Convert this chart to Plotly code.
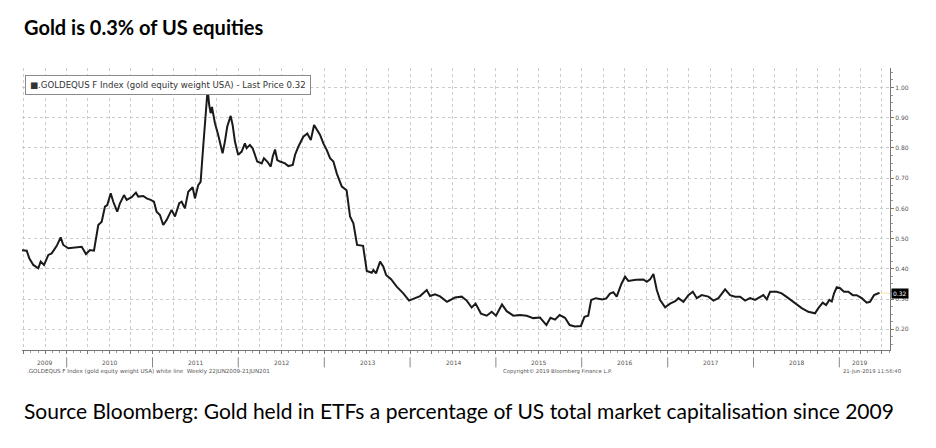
import numpy as np
import pandas as pd
import plotly.graph_objects as go

# ---- data: decimal year, value ----
years_dec = [
    2009.475, 2009.534, 2009.564, 2009.611, 2009.669, 2009.697, 2009.736, 2009.786, 2009.825, 2009.884,
    2009.930, 2009.960, 2010.019, 2010.097, 2010.175, 2010.225, 2010.271, 2010.318, 2010.368, 2010.408,
    2010.446, 2010.473, 2010.513, 2010.543, 2010.589, 2010.621, 2010.668, 2010.699, 2010.757, 2010.807,
    2010.834, 2010.892, 2010.932, 2010.979, 2011.017, 2011.048, 2011.087, 2011.125, 2011.165, 2011.223,
    2011.262, 2011.312, 2011.340, 2011.378, 2011.417, 2011.468, 2011.495, 2011.533, 2011.561, 2011.591,
    2011.623, 2011.643, 2011.661, 2011.678, 2011.693, 2011.728, 2011.766, 2011.794, 2011.817, 2011.844,
    2011.871, 2011.911, 2011.934, 2011.961, 2011.999, 2012.039, 2012.077, 2012.097, 2012.135, 2012.167,
    2012.194, 2012.220, 2012.272, 2012.298, 2012.337, 2012.377, 2012.400, 2012.427, 2012.453, 2012.485,
    2012.543, 2012.582, 2012.633, 2012.660, 2012.698, 2012.756, 2012.803, 2012.843, 2012.881, 2012.912,
    2012.951, 2012.989, 2013.029, 2013.067, 2013.106, 2013.145, 2013.204, 2013.260, 2013.300, 2013.339,
    2013.382, 2013.452, 2013.495, 2013.553, 2013.572, 2013.603, 2013.650, 2013.688, 2013.720, 2013.778,
    2013.844, 2013.921, 2013.988, 2014.058, 2014.116, 2014.194, 2014.232, 2014.291, 2014.349, 2014.430,
    2014.523, 2014.602, 2014.660, 2014.718, 2014.763, 2014.826, 2014.893, 2014.951, 2015.001, 2015.071,
    2015.126, 2015.203, 2015.281, 2015.359, 2015.436, 2015.514, 2015.589, 2015.636, 2015.689, 2015.743,
    2015.805, 2015.860, 2015.921, 2015.991, 2016.032, 2016.076, 2016.110, 2016.164, 2016.242, 2016.286,
    2016.329, 2016.368, 2016.407, 2016.460, 2016.504, 2016.542, 2016.632, 2016.717, 2016.757, 2016.795,
    2016.834, 2016.873, 2016.912, 2016.970, 2017.028, 2017.087, 2017.125, 2017.183, 2017.241, 2017.293,
    2017.339, 2017.397, 2017.474, 2017.533, 2017.591, 2017.669, 2017.727, 2017.785, 2017.844, 2017.902,
    2017.960, 2018.018, 2018.077, 2018.115, 2018.155, 2018.193, 2018.271, 2018.329, 2018.406, 2018.484,
    2018.562, 2018.639, 2018.717, 2018.756, 2018.807, 2018.846, 2018.884, 2018.912, 2018.939, 2018.970,
    2019.009, 2019.055, 2019.105, 2019.157, 2019.203, 2019.261, 2019.320, 2019.358, 2019.405, 2019.455,
    2019.471,
]
gold_weight = [
    0.462, 0.460, 0.435, 0.413, 0.402, 0.424, 0.413, 0.446, 0.451, 0.476,
    0.504, 0.479, 0.468, 0.471, 0.473, 0.449, 0.462, 0.460, 0.545, 0.556,
    0.606, 0.611, 0.650, 0.622, 0.589, 0.617, 0.644, 0.628, 0.637, 0.652,
    0.639, 0.641, 0.633, 0.628, 0.622, 0.589, 0.578, 0.545, 0.562, 0.595,
    0.573, 0.617, 0.622, 0.600, 0.655, 0.670, 0.633, 0.677, 0.688, 0.804,
    0.915, 0.995, 0.942, 0.915, 0.936, 0.882, 0.843, 0.810, 0.782, 0.821,
    0.870, 0.906, 0.876, 0.821, 0.777, 0.788, 0.815, 0.799, 0.810, 0.799,
    0.777, 0.755, 0.749, 0.766, 0.755, 0.738, 0.771, 0.795, 0.760, 0.755,
    0.749, 0.740, 0.744, 0.777, 0.804, 0.837, 0.848, 0.826, 0.876, 0.859,
    0.843, 0.815, 0.793, 0.766, 0.755, 0.716, 0.672, 0.660, 0.573, 0.551,
    0.479, 0.476, 0.393, 0.387, 0.396, 0.385, 0.424, 0.407, 0.380, 0.366,
    0.341, 0.319, 0.295, 0.303, 0.310, 0.330, 0.310, 0.316, 0.309, 0.291,
    0.305, 0.308, 0.295, 0.272, 0.285, 0.252, 0.245, 0.258, 0.245, 0.282,
    0.260, 0.245, 0.247, 0.245, 0.237, 0.239, 0.214, 0.238, 0.232, 0.247,
    0.238, 0.214, 0.209, 0.211, 0.241, 0.245, 0.297, 0.303, 0.299, 0.302,
    0.318, 0.323, 0.308, 0.349, 0.374, 0.360, 0.364, 0.365, 0.357, 0.365,
    0.383, 0.330, 0.297, 0.273, 0.285, 0.293, 0.303, 0.291, 0.313, 0.324,
    0.303, 0.313, 0.308, 0.295, 0.303, 0.332, 0.313, 0.308, 0.308, 0.295,
    0.303, 0.297, 0.308, 0.313, 0.299, 0.324, 0.324, 0.319, 0.303, 0.286,
    0.270, 0.258, 0.253, 0.270, 0.288, 0.280, 0.297, 0.292, 0.319, 0.339,
    0.336, 0.324, 0.324, 0.313, 0.313, 0.303, 0.288, 0.291, 0.313, 0.319,
    0.320,
]
year_labels = ["2009", "2010", "2011", "2012", "2013", "2014", "2015", "2016", "2017", "2018", "2019"]
y_ticks = [0.20, 0.30, 0.40, 0.50, 0.60, 0.70, 0.80, 0.90, 1.00]
last_price = 0.32

title_text = "Gold is 0.3% of US equities"
caption_text = "Source Bloomberg: Gold held in ETFs a percentage of US total market capitalisation since 2009"
legend_text = "■.GOLDEQUS F Index (gold equity weight USA) - Last Price 0.32"
foot_left = ".GOLDEQUS F Index (gold equity weight USA) white line  Weekly 22JUN2009-21JUN201"
foot_mid = "Copyright© 2019 Bloomberg Finance L.P."
foot_right = "21-Jun-2019 11:56:40"


def yfrac_to_date(t):
    y = int(np.floor(t))
    start = pd.Timestamp(y, 1, 1)
    end = pd.Timestamp(y + 1, 1, 1)
    return start + (end - start) * (t - y)


dates = [yfrac_to_date(t) for t in years_dec]
x_start = yfrac_to_date(2009.479)
x_end = yfrac_to_date(2019.591)

fig = go.Figure()
fig.add_trace(go.Scatter(
    x=dates, y=gold_weight, mode="lines",
    line=dict(color="#1a1a1a", width=2),
    showlegend=False, hoverinfo="x+y",
))

grid_col = "#cccccc"
fig.update_layout(
    width=928, height=440,
    margin=dict(l=14, r=46, t=60, b=98),
    paper_bgcolor="white", plot_bgcolor="white",
    font=dict(family="DejaVu Sans", color="#444"),
    xaxis=dict(
        type="date", range=[x_start, x_end],
        tick0="2009-07-01", dtick="M3",
        showgrid=True, gridcolor=grid_col, griddash="dot", gridwidth=1,
        showticklabels=False, ticks="outside", ticklen=3, tickcolor="#777",
        minor=dict(dtick="M1", ticks="outside", ticklen=2, tickcolor="#999", showgrid=False),
        showline=True, linecolor="#777", linewidth=1,
        zeroline=False,
    ),
    yaxis=dict(
        side="right", range=[0.1315, 1.0645],
        tickvals=y_ticks, tickformat=".2f",
        tickfont=dict(size=6, color="#555"),
        ticks="outside", ticklen=3, tickcolor="#777",
        minor=dict(dtick=0.025, ticks="outside", ticklen=2, tickcolor="#999", showgrid=False),
        showgrid=True, gridcolor=grid_col, griddash="dot", gridwidth=1,
        showline=True, linecolor="#777", linewidth=1,
        zeroline=False,
    ),
)

# year separators and centred year labels
first_t, last_t = years_dec[0], years_dec[-1]
for lab in year_labels:
    yr = int(lab)
    lo = max(yr, first_t)
    hi = min(yr + 1, last_t)
    mid = yfrac_to_date((lo + hi) / 2)
    fig.add_annotation(x=mid, y=-0.046, xref="x", yref="paper", text=lab,
                       showarrow=False, font=dict(size=6, color="#555"),
                       xanchor="center", yanchor="middle")
    if yr > 2009:
        fig.add_shape(type="line", xref="x", yref="paper",
                      x0=pd.Timestamp(yr, 1, 1), x1=pd.Timestamp(yr, 1, 1),
                      y0=-0.026, y1=-0.062, line=dict(color="#888", width=1))

# legend box
fig.add_annotation(x=0.004, y=0.975, xref="paper", yref="paper", text=legend_text,
                   showarrow=False, xanchor="left", yanchor="top",
                   font=dict(size=8.6, color="#333", family="DejaVu Sans"),
                   bordercolor="#8a8a8a", borderwidth=1, borderpad=4, bgcolor="white")

# last price marker
fig.add_shape(type="line", xref="x", yref="y", x0=dates[-1], x1=x_end,
              y0=last_price, y1=last_price, line=dict(color="#f3e2a8", width=1))
fig.add_annotation(x=1, y=last_price, xref="paper", yref="y", text="0.32",
                   showarrow=False, xanchor="left", yanchor="middle", xshift=1,
                   font=dict(size=6, color="white"), bgcolor="black", borderpad=1)

# footer texts
fig.add_annotation(x=0.004, y=-0.078, xref="paper", yref="paper", text=foot_left,
                   showarrow=False, xanchor="left", yanchor="middle",
                   font=dict(size=5.6, color="#555"))
fig.add_annotation(x=(501 - 22) / 868, y=-0.078, xref="paper", yref="paper", text=foot_mid,
                   showarrow=False, xanchor="left", yanchor="middle",
                   font=dict(size=5.3, color="#555"))
fig.add_annotation(x=(904 - 22) / 868, y=-0.078, xref="paper", yref="paper", text=foot_right,
                   showarrow=False, xanchor="right", yanchor="middle",
                   font=dict(size=5.3, color="#555"))

# title and caption
fig.add_annotation(x=0, y=(350 - 27) / 282, xref="paper", yref="paper", text="<b>" + title_text + "</b>",
                   showarrow=False, xanchor="left", yanchor="middle",
                   font=dict(size=20, color="black", family="Lato"))
fig.add_annotation(x=0, y=-(410 - 350) / 282, xref="paper", yref="paper", text=caption_text,
                   showarrow=False, xanchor="left", yanchor="middle",
                   font=dict(size=21, color="black", family="Lato"))

fig.write_html("out.html")
